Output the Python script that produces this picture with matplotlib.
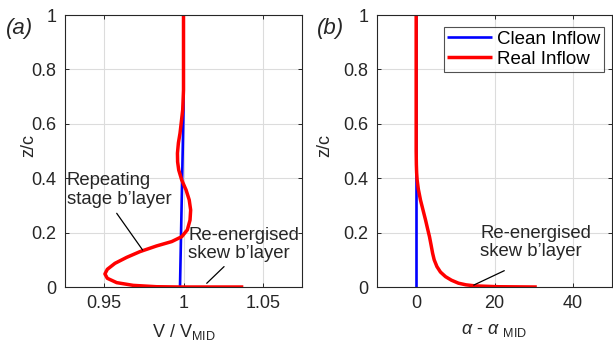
import matplotlib
matplotlib.use("Agg")
import matplotlib.pyplot as plt

plt.rcParams['font.family'] = ['Liberation Sans', 'DejaVu Sans']
plt.rcParams['mathtext.fontset'] = 'custom'
plt.rcParams['mathtext.rm'] = 'Liberation Sans'
plt.rcParams['mathtext.it'] = 'Liberation Sans:italic'

# Clean inflow profiles
z_clean = [0.0, 0.65, 1.0]
v_clean = [0.9978, 1.000, 1.000]
a_clean = [0.0, 0.0, 0.0]

# Real inflow velocity ratio profile
z_real_v = [1.0, 0.724, 0.651, 0.60, 0.565, 0.53, 0.492, 0.46, 0.43, 0.393,
            0.357, 0.320, 0.283, 0.246, 0.210, 0.185, 0.167, 0.151, 0.130,
            0.109, 0.087, 0.065, 0.048, 0.032, 0.016, 0.006, 0.001, 0.0, 0.0]
v_real = [1.000, 1.000, 0.9995, 0.9985, 0.9978, 0.9968, 0.9962, 0.9963, 0.9970,
          0.9989, 1.0016, 1.0036, 1.0045, 1.0041, 1.0024, 0.9989, 0.9926,
          0.9831, 0.9726, 0.9643, 0.9569, 0.9521, 0.9506, 0.9521, 0.9580,
          0.9684, 0.9831, 0.9978, 1.0376]

# Real inflow incidence deviation profile
z_real_a = [1.0, 0.50, 0.45, 0.42, 0.393, 0.36, 0.32, 0.28, 0.246, 0.215, 0.185,
            0.155, 0.124, 0.10, 0.075, 0.055, 0.038, 0.025, 0.014, 0.008,
            0.004, 0.001, 0.0]
a_real = [0.0, 0.0, 0.05, 0.12, 0.25, 0.55, 1.1, 1.8, 2.4, 2.9, 3.4, 3.8, 4.2,
          4.6, 5.3, 6.2, 7.5, 9.0, 10.8, 12.7, 15.1, 21.0, 30.8]

v_ticks = [0.95, 1.0, 1.05]
v_ticklabels = ['0.95', '1', '1.05']
a_ticks = [0, 20, 40]
z_ticks = [0, 0.2, 0.4, 0.6, 0.8, 1.0]
z_ticklabels = ['0', '0.2', '0.4', '0.6', '0.8', '1']

W, H = 613, 354
fig = plt.figure(figsize=(W / 100, H / 100), dpi=100)

ax1 = fig.add_axes([65 / W, 1 - 287 / H, 237 / W, 272 / H])
ax2 = fig.add_axes([377 / W, 1 - 287 / H, 235 / W, 272 / H])

blue = '#0000ff'
red = '#ff0000'
txt = '#262626'
line_kw = dict(solid_joinstyle='round', solid_capstyle='butt')
ann_kw = dict(fontsize=13.3, color=txt, ha='left', va='top', linespacing=1.1)
lead_kw = dict(arrowstyle='-', color='black', lw=0.9, shrinkA=0, shrinkB=0)

for ax in (ax1, ax2):
    ax.set_ylim(0, 1)
    ax.set_yticks(z_ticks)
    ax.set_yticklabels(z_ticklabels)
    ax.grid(True, color='#dcdcdc', linewidth=0.8)
    ax.set_axisbelow(True)
    ax.tick_params(direction='in', top=True, right=True, labelsize=13,
                   colors=txt, length=3, width=0.7, pad=6)
    for s in ax.spines.values():
        s.set_color('#262626')
        s.set_linewidth(0.8)
    ax.set_ylabel('z/c', fontsize=13, color=txt)

ax1.yaxis.set_label_coords(-0.115, 0.52)
ax2.yaxis.set_label_coords(-0.185, 0.52)

# (a) velocity ratio
ax1.plot(v_clean, z_clean, color=blue, lw=1.9, label='Clean Inflow', **line_kw)
ax1.plot(v_real, z_real_v, color=red, lw=2.5, label='Real Inflow', **line_kw)
ax1.set_xlim(0.9255, 1.0745)
ax1.set_xticks(v_ticks)
ax1.set_xticklabels(v_ticklabels)
ax1.set_xlabel('V / V$_{\\mathrm{MID}}$', fontsize=13, color=txt, labelpad=7)
ax1.text(0.9267, 0.422, "Repeating\nstage b\u2019layer", **ann_kw)
ax1.annotate("", xy=(0.9743, 0.136), xytext=(0.958, 0.271), arrowprops=lead_kw)
ax1.text(1.003, 0.222, "Re-energised\nskew b\u2019layer", **ann_kw)
ax1.annotate("", xy=(1.0146, 0.0136), xytext=(1.0255, 0.075), arrowprops=lead_kw)
fig.text(6 / W, 1 - 34 / H, '(a)', fontsize=16, style='italic', color=txt)

# (b) incidence deviation
ax2.plot(a_clean, z_clean, color=blue, lw=1.9, label='Clean Inflow', **line_kw)
ax2.plot(a_real, z_real_a, color=red, lw=2.5, label='Real Inflow', **line_kw)
ax2.set_xlim(-10, 50)
ax2.set_xticks(a_ticks)
ax2.set_xlabel('$\\alpha$ - $\\alpha$ $_{\\mathrm{MID}}$', fontsize=13, color=txt, labelpad=7)
ax2.text(16.4, 0.228, "Re-energised\nskew b\u2019layer", **ann_kw)
ax2.annotate("", xy=(14.7, 0.007), xytext=(22.5, 0.06), arrowprops=lead_kw)
leg = ax2.legend(loc='upper right', bbox_to_anchor=(604 / W, 1 - 27 / H),
                 bbox_transform=fig.transFigure, fontsize=13.5, frameon=True,
                 fancybox=False, edgecolor='#262626', borderpad=0.2,
                 handlelength=2.4, handletextpad=0.25, labelspacing=0.15,
                 borderaxespad=0)
leg.get_frame().set_linewidth(0.8)
fig.text(317 / W, 1 - 34 / H, '(b)', fontsize=16, style='italic', color=txt)

fig.savefig('out.png', dpi=100)
